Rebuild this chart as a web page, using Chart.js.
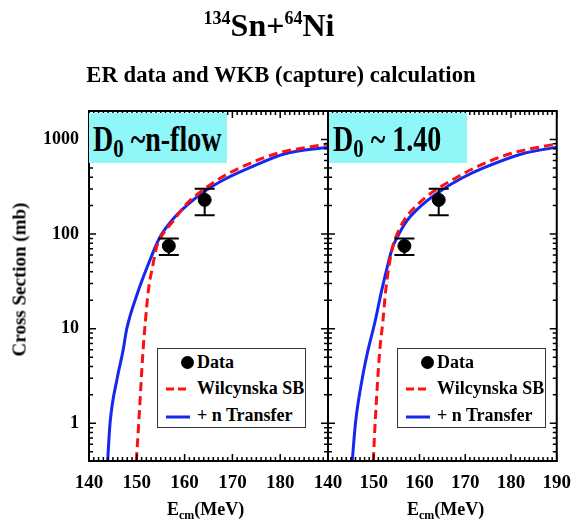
<!DOCTYPE html>
<html>
<head>
<meta charset="utf-8">
<script src="https://cdn.jsdelivr.net/npm/chart.js@4.4.0/dist/chart.umd.min.js"></script>
<style>
  body { margin: 0; background: #fff; }
  #wrap { position: relative; width: 582px; height: 520px; overflow: hidden;
          font-family: "Liberation Serif", "Times New Roman", serif; font-weight: bold; color: #000; }
  #wrap canvas { position: absolute; left: 0; top: 0; }
  .txt { position: absolute; white-space: nowrap; line-height: 1; }
  .dbox { position: absolute; top: 113px; height: 50px; background: #8ff7f7; }
  .dbox .txt { font-size: 35px; top: 9px; left: 4px; transform: scaleX(0.8); transform-origin: left top; }
  .dbox sub { font-size: 26px; vertical-align: baseline; position: relative; top: 6px; }
  .legend { position: absolute; top: 348px; width: 147px; height: 78px; border: 1.5px solid #333; background: #fff; }
  .legend .txt { font-size: 18px; left: 39px; }
  .legend .dot { position: absolute; left: 23px; top: 7px; width: 13px; height: 13px; border-radius: 50%; background: #000; }
  .legend svg { position: absolute; left: 8px; }
  .xtitle { font-size: 18px; top: 500px; }
  .xtitle sub { font-size: 12px; vertical-align: baseline; position: relative; top: 4px; }
</style>
</head>
<body>
<div id="wrap">
  <canvas id="left" width="582" height="520"></canvas>
  <canvas id="right" width="582" height="520"></canvas>

  <div class="txt" style="left:0;width:538px;text-align:center;top:9px;font-size:32px;">
    <span style="font-size:18px;position:relative;top:-12px;">134</span>Sn+<span style="font-size:18px;position:relative;top:-12px;">64</span>Ni
  </div>
  <div class="txt" style="left:0;width:562px;text-align:center;top:64px;font-size:22.7px;">ER data and WKB (capture) calculation</div>

  <div class="txt" style="left:-81px;top:270px;width:200px;text-align:center;font-size:19px;transform:rotate(-90deg);">Cross Section (mb)</div>

  <div class="txt xtitle" style="left:167px;">E<sub>cm</sub>(MeV)</div>
  <div class="txt xtitle" style="left:407px;">E<sub>cm</sub>(MeV)</div>

  <div class="dbox" style="left:89px;width:138px;"><span class="txt">D<sub>0</sub> ~n-flow</span></div>
  <div class="dbox" style="left:329px;width:138px;"><span class="txt">D<sub>0</sub> ~ 1.40</span></div>

  <div class="legend" style="left:157px;">
    <div class="dot"></div>
    <span class="txt" style="top:4px;">Data</span>
    <svg width="24" height="4" style="top:38px;"><line x1="0" y1="2" x2="24" y2="2" stroke="#ff1010" stroke-width="3" stroke-dasharray="8 4"/></svg>
    <span class="txt" style="top:30px;">Wilcynska SB</span>
    <svg width="24" height="4" style="top:66px;"><line x1="0" y1="2" x2="24" y2="2" stroke="#1428f0" stroke-width="3"/></svg>
    <span class="txt" style="top:57px;">+ n Transfer</span>
  </div>
  <div class="legend" style="left:397px;">
    <div class="dot"></div>
    <span class="txt" style="top:4px;">Data</span>
    <svg width="24" height="4" style="top:38px;"><line x1="0" y1="2" x2="24" y2="2" stroke="#ff1010" stroke-width="3" stroke-dasharray="8 4"/></svg>
    <span class="txt" style="top:30px;">Wilcynska SB</span>
    <svg width="24" height="4" style="top:66px;"><line x1="0" y1="2" x2="24" y2="2" stroke="#1428f0" stroke-width="3"/></svg>
    <span class="txt" style="top:57px;">+ n Transfer</span>
  </div>
</div>

<script>
// ==== data ====
const X_TICKS = [140, 150, 160, 170, 180, 190];   // Ecm (MeV)
const Y_TICKS = [1, 10, 100, 1000];               // mb

// ER data (same in both panels)
const EXP_E     = [156.7, 164.2];
const EXP_SIGMA = [75, 230];
const EXP_ERR   = [15, 72];

// left panel: D0 ~ n-flow
const L_SB_E     = [149.9, 150.4, 151.3, 151.8, 152.4, 153.4, 154.1, 155.0, 157.6, 160.3, 163.5, 167.6, 171.5, 179.1, 190.0];
const L_SB_SIGMA = [0.4, 1, 5.8, 12, 25, 48, 72, 92, 137, 206, 284, 394, 500, 707, 900];
const L_NT_E     = [143.9, 144.4, 145.9, 147.1, 147.9, 150.3, 152.4, 154.8, 157.2, 160.7, 164.2, 169.0, 173.5, 181.0, 190.0];
const L_NT_SIGMA = [0.4, 1, 3, 5.8, 10, 25, 48, 92, 137, 206, 284, 394, 500, 707, 830];

// right panel: D0 ~ 1.40
const R_SB_E     = [149.9, 150.3, 151.3, 152.0, 152.6, 153.4, 154.1, 154.8, 156.5, 159.6, 163.1, 168.0, 172.0, 179.8, 190.0];
const R_SB_SIGMA = [0.4, 1, 5.8, 12, 25, 48, 72, 92, 137, 206, 284, 394, 500, 707, 900];
const R_NT_E     = [145.3, 146.0, 147.5, 148.7, 150.3, 151.7, 153.1, 154.1, 155.1, 157.2, 160.7, 164.5, 169.4, 174.0, 182.5, 190.0];
const R_NT_SIGMA = [0.4, 1, 3, 5.8, 12, 25, 48, 72, 92, 137, 206, 284, 394, 500, 707, 830];

// ==== style ====
const RED  = "#ff1010";
const BLUE = "#1428f0";
const FONT = "'Liberation Serif', 'Times New Roman', serif";
const PLOT_TOP = 111, PLOT_BOTTOM = 461, MID_X = 328, PLOT_RIGHT = 569;

const toPoints = (xs, ys) => xs.map((x, i) => ({ x, y: ys[i] }));

// error bars for the data set
const errorBars = {
  id: "errorBars",
  afterDatasetsDraw(chart) {
    const meta = chart.getDatasetMeta(2);
    const y = chart.scales.y;
    const ctx = chart.ctx;
    ctx.save();
    ctx.strokeStyle = "#000";
    ctx.lineWidth = 2;
    meta.data.forEach((pt, i) => {
      const top = y.getPixelForValue(EXP_SIGMA[i] + EXP_ERR[i]);
      const bot = y.getPixelForValue(EXP_SIGMA[i] - EXP_ERR[i]);
      ctx.beginPath();
      ctx.moveTo(pt.x, top); ctx.lineTo(pt.x, bot);
      ctx.moveTo(pt.x - 10, top); ctx.lineTo(pt.x + 10, top);
      ctx.moveTo(pt.x - 10, bot); ctx.lineTo(pt.x + 10, bot);
      ctx.stroke();
    });
    ctx.restore();
  }
};

// frame + inward ticks on all four sides
const frameTicks = {
  id: "frameTicks",
  afterDraw(chart) {
    const { ctx, chartArea: a, scales } = chart;
    const xs = scales.x, ys = scales.y;
    ctx.save();
    ctx.strokeStyle = "#000";
    ctx.lineWidth = 1.5;
    ctx.beginPath();
    for (let v = 140; v <= 190; v++) {
      const px = xs.getPixelForValue(v);
      const len = v % 10 === 0 ? 7 : 4;
      ctx.moveTo(px, a.bottom); ctx.lineTo(px, a.bottom - len);
      ctx.moveTo(px, a.top); ctx.lineTo(px, a.top + len);
    }
    for (let d = 0.1; d <= 1000; d *= 10) {
      for (let k = 1; k <= 9; k++) {
        const v = k * d;
        if (v < 0.4 || v > 2000) continue;
        const py = ys.getPixelForValue(v);
        const len = k === 1 ? 7 : 4;
        ctx.moveTo(a.left, py); ctx.lineTo(a.left + len, py);
        ctx.moveTo(a.right, py); ctx.lineTo(a.right - len, py);
      }
    }
    ctx.stroke();
    ctx.lineWidth = 2;
    ctx.strokeRect(a.left, a.top, a.right - a.left, a.bottom - a.top);
    ctx.restore();
  }
};

function buildPanel(id, sbE, sbSigma, ntE, ntSigma, isLeft) {
  const ctx = document.getElementById(id).getContext("2d");
  const tickFont = { family: FONT, size: 19, weight: "bold" };
  return new Chart(ctx, {
    type: "scatter",
    data: {
      datasets: [
        { label: "+ n Transfer", data: toPoints(ntE, ntSigma), showLine: true,
          borderColor: BLUE, borderWidth: 3, pointRadius: 0, cubicInterpolationMode: "monotone", order: 3 },
        { label: "Wilcynska SB", data: toPoints(sbE, sbSigma), showLine: true,
          borderColor: RED, borderWidth: 3, borderDash: [9, 5], pointRadius: 0, cubicInterpolationMode: "monotone", order: 2 },
        { label: "Data", data: toPoints(EXP_E, EXP_SIGMA), pointRadius: 6.5,
          backgroundColor: "#000", borderColor: "#000", order: 1 }
      ]
    },
    options: {
      responsive: false,
      animation: false,
      events: [],
      layout: { padding: { left: 0, top: PLOT_TOP, right: isLeft ? 582 - MID_X : 582 - PLOT_RIGHT, bottom: 0 } },
      plugins: { legend: { display: false }, tooltip: { enabled: false } },
      scales: {
        x: {
          type: "linear", min: 140, max: 190,
          afterBuildTicks: s => { s.ticks = X_TICKS.map(v => ({ value: v })); },
          afterFit: s => { s.height = 520 - PLOT_BOTTOM; },
          grid: { display: false, drawTicks: false },
          border: { display: false },
          ticks: { padding: 11, color: "#000", font: tickFont, maxRotation: 0, autoSkip: false,
                   callback: v => (isLeft && v === 190) ? "" : String(v) }
        },
        y: {
          type: "logarithmic", min: 0.4, max: 2000,
          afterBuildTicks: s => { s.ticks = Y_TICKS.map(v => ({ value: v })); },
          afterFit: s => { s.width = isLeft ? 89 : MID_X; },
          grid: { display: false, drawTicks: false },
          border: { display: false },
          ticks: { display: isLeft, padding: 10, color: "#000", autoSkip: false,
                   font: { family: FONT, size: 18, weight: "bold" },
                   callback: v => String(v) }
        }
      }
    },
    plugins: [errorBars, frameTicks]
  });
}

buildPanel("left",  L_SB_E, L_SB_SIGMA, L_NT_E, L_NT_SIGMA, true);
buildPanel("right", R_SB_E, R_SB_SIGMA, R_NT_E, R_NT_SIGMA, false);
</script>
</body>
</html>
